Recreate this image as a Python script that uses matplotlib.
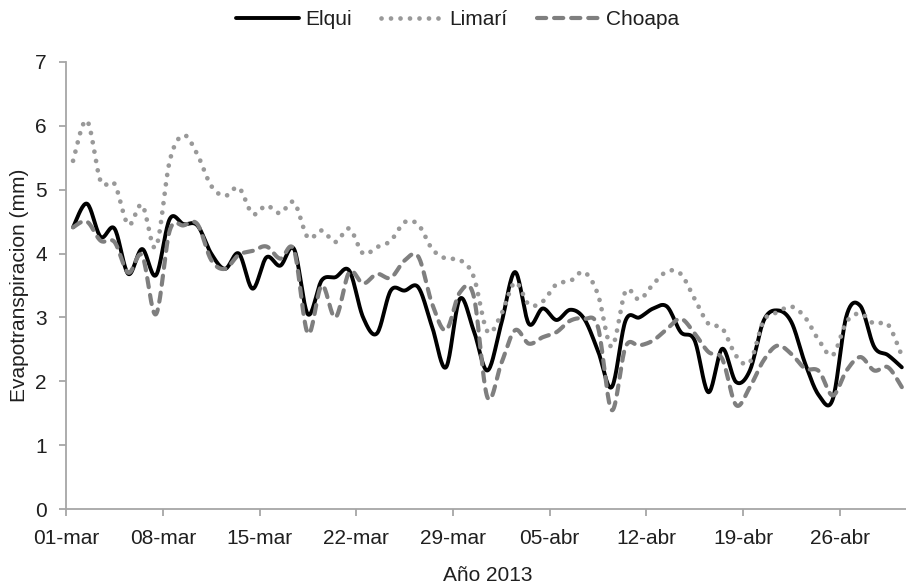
import numpy as np
import matplotlib
matplotlib.use('Agg')
import matplotlib.pyplot as plt

# daily evapotranspiration, 01-mar .. 30-abr 2013
elqui = [4.41, 4.78, 4.26, 4.39, 3.68, 4.07, 3.66, 4.54, 4.46, 4.44,
         4.00, 3.76, 4.00, 3.45, 3.94, 3.81, 4.07, 3.05, 3.58, 3.63,
         3.73, 3.00, 2.75, 3.42, 3.42, 3.47, 2.85, 2.22, 3.29, 2.80,
         2.17, 2.90, 3.71, 2.90, 3.14, 2.96, 3.12, 2.98, 2.48, 1.91,
         2.95, 3.00, 3.14, 3.17, 2.77, 2.64, 1.83, 2.51, 1.99, 2.17,
         2.95, 3.11, 2.93, 2.28, 1.78, 1.72, 3.03, 3.18, 2.54, 2.41,
         2.22]
limari = [5.45, 6.08, 5.13, 5.09, 4.45, 4.76, 4.10, 5.45, 5.85, 5.55,
          5.06, 4.90, 5.03, 4.62, 4.75, 4.63, 4.80, 4.25, 4.36, 4.18,
          4.39, 4.00, 4.10, 4.20, 4.49, 4.45, 4.07, 3.92, 3.90, 3.64,
          2.78, 3.05, 3.55, 3.20, 3.25, 3.52, 3.57, 3.71, 3.36, 2.54,
          3.41, 3.28, 3.52, 3.72, 3.68, 3.29, 2.90, 2.83, 2.40, 2.30,
          2.95, 3.08, 3.17, 3.00, 2.64, 2.41, 2.93, 3.06, 2.90, 2.89,
          2.40]
choapa = [4.41, 4.50, 4.20, 4.18, 3.70, 3.97, 3.05, 4.36, 4.44, 4.46,
          3.90, 3.76, 3.98, 4.04, 4.11, 3.92, 4.05, 2.75, 3.50, 3.00,
          3.71, 3.53, 3.68, 3.62, 3.89, 3.95, 3.21, 2.80, 3.39, 3.34,
          1.75, 2.28, 2.80, 2.59, 2.69, 2.77, 2.95, 2.98, 2.85, 1.55,
          2.54, 2.56, 2.64, 2.82, 2.98, 2.75, 2.46, 2.35, 1.63, 1.91,
          2.33, 2.56, 2.43, 2.20, 2.16, 1.78, 2.17, 2.38, 2.17, 2.22,
          1.91]
tick_labels = ['01-mar', '08-mar', '15-mar', '22-mar', '29-mar',
               '05-abr', '12-abr', '19-abr', '26-abr']

plt.rcParams['font.family'] = ['Liberation Sans', 'DejaVu Sans']
txt = '#1f1f1f'
axc = '#a6a6a6'
fs = 15


def smooth(y, n=20):
    # excel-like smoothed line (catmull-rom as bezier)
    x = np.arange(len(y)) + 0.5
    y = np.asarray(y, float)
    px = np.concatenate([[x[0]], x, [x[-1]]])
    py = np.concatenate([[y[0]], y, [y[-1]]])
    xs, ys = [], []
    t = np.linspace(0, 1, n, endpoint=False)
    for i in range(1, len(px) - 2):
        p0 = np.array([px[i], py[i]])
        p3 = np.array([px[i + 1], py[i + 1]])
        p1 = p0 + (p3 - np.array([px[i - 1], py[i - 1]])) / 6
        p2 = p3 - (np.array([px[i + 2], py[i + 2]]) - p0) / 6
        b = ((1 - t) ** 3)[:, None] * p0 + (3 * (1 - t) ** 2 * t)[:, None] * p1 \
            + (3 * (1 - t) * t ** 2)[:, None] * p2 + (t ** 3)[:, None] * p3
        xs.append(b[:, 0]); ys.append(b[:, 1])
    xs.append([x[-1]]); ys.append([y[-1]])
    return np.concatenate(xs), np.concatenate(ys)


fig = plt.figure(figsize=(9.06, 5.88), dpi=100)
ax = fig.add_axes([0.073, 0.134, 0.93, 0.761])

x, y = smooth(elqui)
ax.plot(x, y, color='black', lw=2.8, label='Elqui', solid_capstyle='round')
x, y = smooth(limari)
ax.plot(x, y, color='#999999', lw=3.4, linestyle=(0, (0.01, 2.0)),
        dash_capstyle='round', label='Limarí')
x, y = smooth(choapa)
ax.plot(x, y, color='#7f7f7f', lw=3.0, linestyle=(0, (2.2, 1.9)),
        dash_capstyle='round', label='Choapa')

ax.set_xlim(0, 61)
ax.set_ylim(0, 7)
ax.set_xticks(np.arange(len(tick_labels)) * 7)
ax.set_xticklabels(tick_labels)
ax.set_yticks(range(8))
for s in ['top', 'right']:
    ax.spines[s].set_visible(False)
for s in ['left', 'bottom']:
    ax.spines[s].set_color(axc)
    ax.spines[s].set_linewidth(1.3)
ax.tick_params(colors=axc, labelcolor=txt, labelsize=fs, length=5, width=1.3)
ax.tick_params(axis='x', pad=9)
ax.tick_params(axis='y', pad=9)
ax.set_xlabel('Año 2013', fontsize=fs, color=txt, labelpad=13)
ax.set_ylabel('Evapotranspiracion (mm)', fontsize=fs, color=txt, labelpad=4)

fig.legend(loc='upper center', bbox_to_anchor=(0.505, 1.015), ncol=3, frameon=False,
           fontsize=fs, handlelength=3.0, handletextpad=0.3, columnspacing=1.4,
           labelcolor=txt)

fig.savefig('out.png', dpi=100)
